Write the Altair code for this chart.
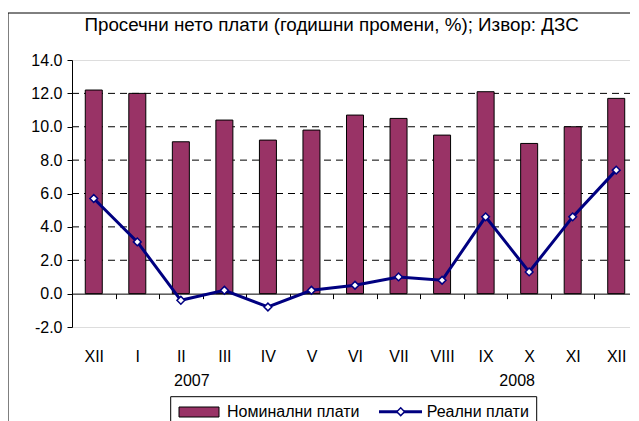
import altair as alt
import pandas as pd

months = ["XII", "I", "II", "III", "IV", "V", "VI", "VII", "VIII", "IX", "X", "XI", "XII"]
nominal = [12.2, 12.0, 9.1, 10.4, 9.2, 9.8, 10.7, 10.5, 9.5, 12.1, 9.0, 10.0, 11.7]
real = [5.7, 3.1, -0.4, 0.2, -0.8, 0.2, 0.5, 1.0, 0.8, 4.6, 1.3, 4.6, 7.4]
grid_values = [2, 4, 6, 8, 10, 12]
y_ticks = [-2, 0, 2, 4, 6, 8, 10, 12, 14]
years = ["2007", "2008"]
year_pos = [2, 10]

title_text = "Просечни нето плати (годишни промени, %); Извор: ДЗС"
legend_nom = "Номинални плати"
legend_real = "Реални плати"

W, H = 566, 267
FONT = "Liberation Sans"

df = pd.DataFrame({"idx": list(range(len(months))), "nominal": nominal, "real": real})
grid_df = pd.DataFrame({"g": grid_values})
one = pd.DataFrame({"a": [0]})

label_expr = "[" + ",".join("'%s'" % m for m in months) + "][datum.value]"

x_scale = alt.Scale(paddingInner=0, paddingOuter=0)
x_axis = alt.Axis(
    title=None, orient="bottom", offset=-H * 2 / 16, tickBand="extent",
    tickSize=5, tickColor="black", domainColor="black", labelAngle=0,
    labelFontSize=16, labelFont=FONT, labelColor="black", labelPadding=50,
    labelExpr=label_expr, labelOverlap=False, grid=False,
)
y_scale = alt.Scale(domain=[-2, 14], nice=False, zero=False)
y_axis = alt.Axis(
    title=None, values=y_ticks, grid=False, tickSize=5,
    labelExpr="replace(format(datum.value, '.1f'), '\u2212', '-')",
    tickColor="black", domainColor="black", labelFontSize=16, labelFont=FONT,
    labelColor="black", labelPadding=5, labelOverlap=False,
)


def X():
    return alt.X("idx:O", scale=x_scale, axis=x_axis)


def Y(field):
    return alt.Y(field, scale=y_scale, axis=y_axis)


grid = alt.Chart(grid_df).mark_rule(color="black", strokeDash=[7, 5], strokeWidth=1).encode(
    y=Y("g:Q"), x=alt.value(0), x2=alt.value(W)
)
bars = alt.Chart(df).mark_bar(size=17, color="#993366", stroke="black", strokeWidth=1).encode(
    x=X(), y=Y("nominal:Q"), y2=alt.datum(0)
)
line = alt.Chart(df).mark_line(color="#000080", strokeWidth=3).encode(
    x=X(), y=Y("real:Q")
)
pts = alt.Chart(df).mark_point(
    shape="diamond", filled=True, fill="white", stroke="#000080", strokeWidth=1.5, size=60, opacity=1
).encode(x=X(), y=Y("real:Q"))

title = alt.Chart(one).mark_text(
    text=title_text, font=FONT, fontSize=18.8, align="center", baseline="alphabetic", color="black"
).encode(x=alt.value(259.6), y=alt.value(-29.4))

yr1 = alt.Chart(pd.DataFrame({"idx": [year_pos[0]], "t": [years[0]]})).mark_text(
    font=FONT, fontSize=16, baseline="middle", dx=11, color="black"
).encode(x=X(), y=alt.value(321), text="t:N")
yr2 = alt.Chart(pd.DataFrame({"idx": [year_pos[1]], "t": [years[1]]})).mark_text(
    font=FONT, fontSize=16, baseline="middle", dx=-12, color="black"
).encode(x=X(), y=alt.value(321), text="t:N")

outer = alt.Chart(one).mark_rect(fill=None, stroke="black", strokeWidth=1).encode(
    x=alt.value(-64), x2=alt.value(W + 40), y=alt.value(-47), y2=alt.value(H + 130)
)
leg_box = alt.Chart(one).mark_rect(fill="white", stroke="black", strokeWidth=1).encode(
    x=alt.value(98.7), x2=alt.value(464.7), y=alt.value(336.7), y2=alt.value(H + 110)
)
leg_sw = alt.Chart(one).mark_rect(fill="#993366", stroke="black", strokeWidth=1).encode(
    x=alt.value(107), x2=alt.value(147), y=alt.value(347), y2=alt.value(357)
)
leg_t1 = alt.Chart(one).mark_text(
    text=legend_nom, font=FONT, fontSize=16, align="left", baseline="middle", color="black"
).encode(x=alt.value(155), y=alt.value(352))
leg_line = alt.Chart(one).mark_rule(color="#000080", strokeWidth=3).encode(
    x=alt.value(307), x2=alt.value(350), y=alt.value(351.7)
)
leg_pt = alt.Chart(one).mark_point(
    shape="diamond", filled=True, fill="white", stroke="#000080", strokeWidth=1.5, size=60, opacity=1
).encode(x=alt.value(328.7), y=alt.value(351.7))
leg_t2 = alt.Chart(one).mark_text(
    text=legend_real, font=FONT, fontSize=16, align="left", baseline="middle", color="black"
).encode(x=alt.value(354.7), y=alt.value(352))

chart = alt.layer(
    grid, bars, line, pts, title, yr1, yr2, outer, leg_box, leg_sw, leg_t1, leg_line, leg_pt, leg_t2
).properties(
    width=W, height=H,
    autosize=alt.AutoSizeParams(type="none"),
    padding={"left": 64, "top": 52, "right": -8, "bottom": 98},
).configure_view(fill="#C0C0C0", stroke="#808080", strokeWidth=1).configure(background="white")

chart.save("out.html", embed_options={"renderer": "svg", "actions": False})
